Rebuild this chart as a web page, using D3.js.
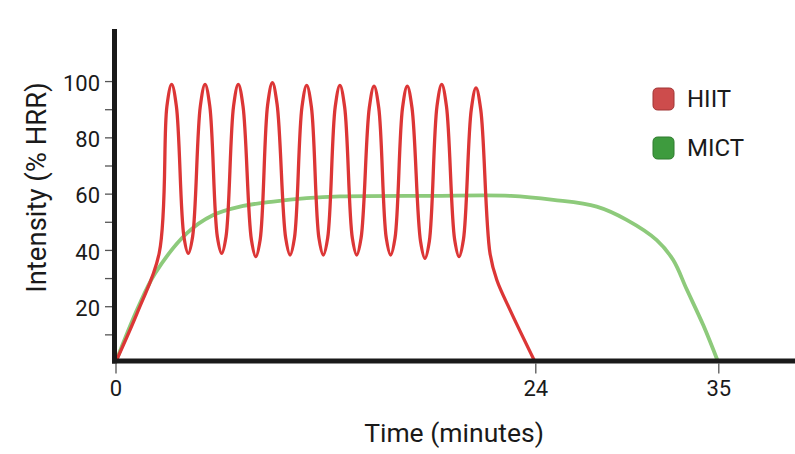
<!DOCTYPE html>
<html>
<head>
<meta charset="utf-8">
<script src="https://cdn.jsdelivr.net/npm/d3@7"></script>
<style>
  html, body { margin: 0; padding: 0; background: #fff; }
  svg { display: block; font-family: Roboto, "Noto Sans", sans-serif; }
</style>
</head>
<body>
<svg id="chart" width="795" height="454"></svg>
<script>
// ---- data ----
const hiitTime  = [0, 1.3, 2.5,
  2.94, 3.21, 3.48,  3.91, 4.16, 4.41,
  4.85, 5.12, 5.39,  5.82, 6.07, 6.32,
  6.75, 7.02, 7.29,  7.77, 8.02, 8.27,
  8.70, 8.97, 9.24,  9.73, 9.98, 10.23,
  10.66, 10.93, 11.20,  11.63, 11.88, 12.13,
  12.56, 12.83, 13.10,  13.54, 13.79, 14.04,
  14.51, 14.78, 15.05,  15.48, 15.73, 15.98,
  16.41, 16.68, 16.95,  17.44, 17.69, 17.94,
  18.38, 18.65, 18.92,  19.39, 19.64, 19.89,
  20.34, 20.61, 20.88,
  21.41, 21.80, 22.56, 24];
const hiitValue = [0, 18.5, 38.9,
  91.1, 98.8, 91.1,  44.8, 38.8, 44.8,
  91.1, 98.8, 91.1,  44.8, 38.8, 44.8,
  91.1, 98.8, 91.1,  43.6, 37.6, 43.6,
  91.7, 99.4, 91.7,  44.2, 38.2, 44.2,
  90.8, 98.5, 90.8,  44.2, 38.2, 44.2,
  90.8, 98.5, 90.8,  44.2, 38.2, 44.2,
  90.5, 98.2, 90.5,  44.2, 38.2, 44.2,
  90.5, 98.2, 90.5,  43.0, 37.0, 43.0,
  91.1, 98.8, 91.1,  43.6, 37.6, 43.6,
  89.9, 97.6, 89.9,
  38.8, 29.3, 18.6, 0];
const mictTime  = [0, 1.3, 2.26, 4.07, 5.59, 7.12, 9.02, 10.93, 12.84, 18, 22.6, 25.08, 27.69, 29.49, 31.30, 32.29, 33.10, 34.1, 35];
const mictValue = [0, 19.7, 31.6, 45.9, 52.4, 55.4, 57.2, 58.4, 59.0, 59.2, 59.2, 57.8, 55.4, 50.7, 43.5, 36.4, 26.0, 13.2, 0];
const xTickValues = [0, 24, 35];
const yTickValues = [10, 20, 30, 40, 50, 60, 70, 80, 90, 100];
const yTickLabels = [20, 40, 60, 80, 100];
const seriesNames = ["HIIT", "MICT"];
const legendFill = ["#cd4c4c", "#3e9b3e"];
const legendStroke = ["#a03434", "#2e7a2e"];
const lineColors = ["#dc3636", "#8dca7b"];

// ---- layout ----
const svg = d3.select("#chart");
const x = d3.scaleLinear().domain([0, 24, 35]).range([115.5, 535.3, 718.3]);
const y = d3.scaleLinear().domain([0, 118.5]).range([362.5, 29]);

// y ticks
const yAxis = d3.axisLeft(y).tickValues(yTickValues).tickSize(7).tickFormat("");
const gy = svg.append("g").attr("transform", "translate(112,0)").call(yAxis);
gy.select(".domain").remove();
gy.selectAll(".tick line").attr("stroke", "#555").attr("stroke-width", 1.3);

svg.append("g").selectAll("text").data(yTickLabels).join("text")
  .attr("x", 100).attr("y", d => y(d) + 4)
  .attr("text-anchor", "end").attr("dominant-baseline", "middle")
  .attr("font-size", 22).attr("fill", "#1a1a1a")
  .text(d => d);

// x ticks
const xAxis = d3.axisBottom(x).tickValues(xTickValues).tickSize(10).tickPadding(4).tickFormat(d3.format("d"));
const gx = svg.append("g").attr("transform", "translate(0,363.5)").call(xAxis);
gx.select(".domain").remove();
gx.selectAll(".tick line").attr("stroke", "#555").attr("stroke-width", 1.3);
gx.selectAll(".tick text").attr("font-size", 22).attr("fill", "#1a1a1a")
  .attr("font-family", "Roboto, sans-serif").attr("dy", "0.85em");

// lines
const mictData = mictTime.map((t, i) => [t, mictValue[i]]);
const hiitData = hiitTime.map((t, i) => [t, hiitValue[i]]);
const hiitLine = d3.line().x(d => x(d[0])).y(d => y(d[1])).curve(d3.curveCatmullRom.alpha(0.5));
const mictLine = d3.line().x(d => x(d[0])).y(d => y(d[1])).curve(d3.curveCatmullRom.alpha(0.5));

svg.append("path").datum(mictData).attr("d", mictLine)
  .attr("fill", "none").attr("stroke", lineColors[1]).attr("stroke-width", 3.8)
  .attr("stroke-linejoin", "round");
svg.append("path").datum(hiitData).attr("d", hiitLine)
  .attr("fill", "none").attr("stroke", lineColors[0]).attr("stroke-width", 3.3)
  .attr("stroke-linejoin", "round");

// axis lines
svg.append("line").attr("x1", 114.5).attr("x2", 114.5).attr("y1", 29).attr("y2", 363.5)
  .attr("stroke", "#1a1a1a").attr("stroke-width", 5);
svg.append("line").attr("x1", 112).attr("x2", 795).attr("y1", 361).attr("y2", 361)
  .attr("stroke", "#1a1a1a").attr("stroke-width", 5);

// axis titles
svg.append("text").attr("x", 454).attr("y", 441.5).attr("text-anchor", "middle")
  .attr("font-size", 26.5).attr("fill", "#1a1a1a").text("Time (minutes)");
svg.append("text").attr("transform", "translate(46,187.5) rotate(-90)")
  .attr("text-anchor", "middle").attr("font-size", 27.5).attr("fill", "#1a1a1a")
  .text("Intensity (% HRR)");

// legend
const lg = svg.append("g").selectAll("g").data(seriesNames).join("g")
  .attr("transform", (d, i) => `translate(653,${88 + i * 49})`);
lg.append("rect").attr("width", 21).attr("height", 22).attr("rx", 4.5)
  .attr("fill", (d, i) => legendFill[i]).attr("stroke", (d, i) => legendStroke[i]).attr("stroke-width", 1);
lg.append("text").attr("x", 34).attr("y", 19).attr("font-size", 24).attr("fill", "#1a1a1a")
  .text(d => d);
</script>
</body>
</html>
